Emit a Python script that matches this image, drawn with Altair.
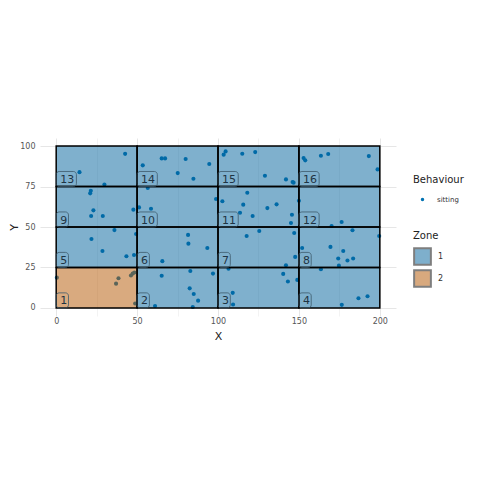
import altair as alt
import pandas as pd

# ---- point data ----
pt_x = [14.4, 42.6, 29.8,
        21.4, 21.0, 23.0, 21.6, 28.8, 47.7,
        53.5, 65.2, 67.3, 80.0, 94.6, 75.1, 84.8, 56.6,
        51.2, 58.6, 98.8,
        104.7, 103.5, 115.0, 123.0, 129.0, 142.0, 146.1, 146.7,
        152.9, 153.9, 163.6, 168.1, 193.2, 198.6,
        118.1, 102.7, 115.6, 130.5, 113.6, 121.4, 136.2, 150.0, 145.7, 145.1,
        170.2, 176.4,
        36.0, 49.4, 21.8, 28.6, 43.4, 48.1,
        0.4, 38.5, 37.0, 46.2, 47.3, 48.3, 48.8,
        65.6, 81.5, 81.7, 93.4,
        65.2, 61.1, 82.9, 82.5, 85.0, 87.7, 84.4, 96.9,
        106.5, 109.1, 109.3, 140.3, 143.2, 149.0,
        117.7, 125.5, 147.1, 147.7, 142.0,
        183.1, 199.6, 152.0, 169.5, 177.4, 174.3, 180.0, 183.5, 174.7,
        163.6, 186.8, 192.4, 176.5]
pt_y = [83.9, 95.2, 76.3,
        72.4, 70.8, 60.3, 56.8, 56.8, 60.7,
        88.1, 92.4, 92.4, 92.0, 88.9, 83.3, 79.8, 74.1,
        62.1, 61.3, 67.3,
        96.7, 94.7, 95.3, 96.3, 81.7, 79.4, 77.8, 77.4,
        92.6, 91.2, 94.0, 95.1, 93.8, 85.6,
        71.2, 65.9, 63.8, 61.7, 58.8, 56.8, 64.0, 66.2, 57.6, 52.5,
        50.6, 53.1,
        48.1, 45.7, 42.6, 35.2, 31.9, 32.7,
        18.7, 18.3, 15.0, 20.0, 21.2, 21.9, 2.7,
        28.9, 45.1, 39.7, 37.0,
        19.9, 1.2, 22.8, 12.1, 8.6, 4.5, 0.6, 21.2,
        24.2, 9.3, 2.1, 21.0, 16.3, 17.3,
        44.4, 47.5, 46.3, 31.5, 26.3,
        48.0, 44.4, 37.0, 37.7, 35.2, 30.5, 29.3, 30.5, 26.1,
        23.9, 6.0, 7.2, 1.9]
behaviour = ["sitting"] * len(pt_x)

# ---- tiles ----
tile_id = list(range(1, 17))
tile_x0 = [0, 50, 100, 150] * 4
tile_y0 = [0] * 4 + [25] * 4 + [50] * 4 + [75] * 4
tile_w = 50
tile_h = 25
tile_zone = ["2"] + ["1"] * 15

pts = pd.DataFrame({"X": pt_x, "Y": pt_y, "Behaviour": behaviour})
tiles = pd.DataFrame({
    "id": [str(i) for i in tile_id],
    "x0": tile_x0,
    "y0": tile_y0,
    "x1": [v + tile_w for v in tile_x0],
    "y1": [v + tile_h for v in tile_y0],
    "Zone": tile_zone,
})
tiles["bx1"] = tiles["x0"] + tiles["id"].str.len().map({1: 7.6, 2: 12.5})
tiles["by1"] = tiles["y0"] + 9.3

FONT = "DejaVu Sans"
xscale = alt.Scale(domain=[-10, 210], nice=False, zero=False)
yscale = alt.Scale(domain=[-5, 105], nice=False, zero=False)

grid_w_x = {"condition": {"test": "datum.value % 50 === 0", "value": 1}, "value": 0.5}
grid_w_y = {"condition": {"test": "datum.value % 25 === 0", "value": 1}, "value": 0.5}

xaxis = alt.Axis(values=[0, 25, 50, 75, 100, 125, 150, 175, 200],
                 labelExpr="datum.value % 50 === 0 ? datum.label : ''",
                 grid=True, gridColor="#e6e6e6", gridWidth=grid_w_x,
                 ticks=False, domain=False, labelPadding=1, titlePadding=5,
                 labelFontSize=8, labelColor="#555555", labelFont=FONT,
                 title="X", titleFont=FONT, titleFontSize=11, titleFontWeight="normal",
                 titleColor="#222222")
yaxis = alt.Axis(values=[0, 12.5, 25, 37.5, 50, 62.5, 75, 87.5, 100],
                 labelExpr="datum.value % 25 === 0 ? datum.label : ''",
                 grid=True, gridColor="#e6e6e6", gridWidth=grid_w_y,
                 ticks=False, domain=False, labelPadding=5, titlePadding=0,
                 labelFontSize=8, labelColor="#555555", labelFont=FONT,
                 title="Y", titleFont=FONT, titleFontSize=11, titleFontWeight="normal",
                 titleColor="#222222")

points = alt.Chart(pts).mark_circle(size=17, opacity=1).encode(
    x=alt.X("X:Q", scale=xscale, axis=xaxis),
    y=alt.Y("Y:Q", scale=yscale, axis=yaxis),
    color=alt.Color("Behaviour:N",
                    scale=alt.Scale(domain=["sitting"], range=["#0072B2"]),
                    legend=alt.Legend(title="Behaviour", orient="none", legendX=373, legendY=37,
                                      titleFont=FONT, titleFontSize=10, titleFontWeight="normal",
                                      titleColor="#222222", labelFont=FONT, labelFontSize=7,
                                      labelColor="#333333", symbolSize=12, symbolType="circle",
                                      symbolOffset=6, labelOffset=11, titlePadding=11)),
)

rects = alt.Chart(tiles).mark_rect(fillOpacity=0.5, strokeWidth=0).encode(
    x="x0:Q", x2="x1:Q", y="y0:Q", y2="y1:Q",
    fill=alt.Fill("Zone:N",
                  scale=alt.Scale(domain=["1", "2"], range=["#00619B", "#B35500"]),
                  legend=alt.Legend(title="Zone", orient="none", legendX=373, legendY=93,
                                    titleFont=FONT, titleFontSize=10, titleFontWeight="normal",
                                    titleColor="#222222", labelFont=FONT, labelFontSize=8,
                                    labelColor="#333333", symbolType="square", symbolSize=280,
                                    symbolOpacity=0.5,
                                    symbolStrokeColor="black", symbolStrokeWidth=2,
                                    rowPadding=-5, labelOffset=6, titlePadding=6)),
)

borders = alt.Chart(tiles).mark_rect(fillOpacity=0, stroke="black", strokeWidth=1.5).encode(
    x="x0:Q", x2="x1:Q", y="y0:Q", y2="y1:Q")

boxes = alt.Chart(tiles).mark_rect(cornerRadius=3, fillOpacity=0, stroke="#3d5a6c",
                                   strokeOpacity=0.8, strokeWidth=1).encode(
    x="x0:Q", x2="bx1:Q", y="y0:Q", y2="by1:Q")

labels = alt.Chart(tiles).mark_text(align="left", baseline="alphabetic", dx=4, dy=-3.5,
                                    font=FONT, fontSize=11, color="#1f3443").encode(
    x="x0:Q", y="y0:Q", text="id:N")

chart = alt.layer(points, rects, borders, boxes, labels).properties(
    width=356, height=178,
    autosize=alt.AutoSizeParams(type="none"),
    padding={"left": 32, "top": 130, "right": 76, "bottom": 156},
).configure_view(stroke=None)

chart.save("out.html", embed_options={"renderer": "svg", "actions": False})
